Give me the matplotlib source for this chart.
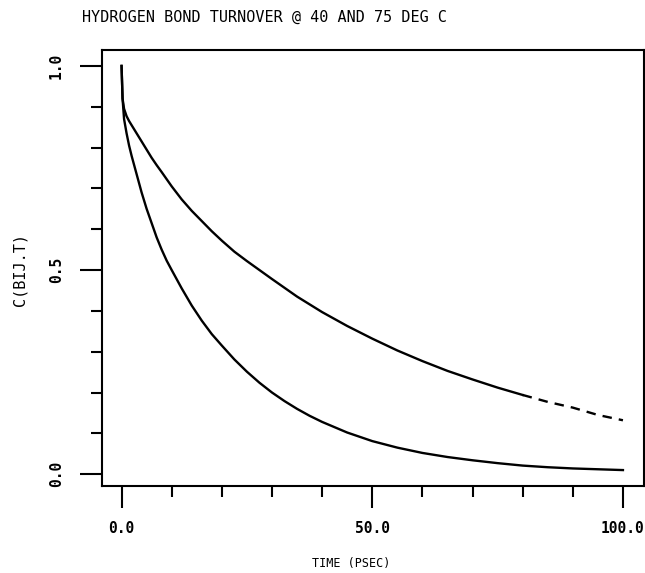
import matplotlib
matplotlib.use("Agg")
import matplotlib.pyplot as plt
from matplotlib.ticker import MultipleLocator

# Upper curve (40 deg C), solid part
t_upper = [0, 0.2, 0.5, 1, 1.5, 2, 3, 4, 5, 6, 7, 8, 10, 12, 14, 16, 18, 20, 22.5, 25,
           27.5, 30, 35, 40, 45, 50, 55, 60, 65, 70, 75, 80]
c_upper = [1.0, 0.92, 0.895, 0.877, 0.865, 0.855, 0.835, 0.815, 0.795, 0.775, 0.757, 0.74,
           0.705, 0.673, 0.645, 0.62, 0.595, 0.572, 0.545, 0.522, 0.5, 0.478, 0.435, 0.397,
           0.363, 0.332, 0.303, 0.277, 0.253, 0.232, 0.212, 0.194]
# Upper curve, dashed tail
t_upper_tail = [80, 85, 90, 95, 100]
c_upper_tail = [0.194, 0.177, 0.163, 0.145, 0.132]
# Lower curve (75 deg C)
t_lower = [0, 0.2, 0.5, 1, 1.5, 2, 3, 4, 5, 6, 7, 8, 9, 10, 12, 14, 16, 18, 20, 22.5, 25,
           27.5, 30, 32.5, 35, 37.5, 40, 45, 50, 55, 60, 65, 70, 75, 80, 85, 90, 95, 100]
c_lower = [1.0, 0.92, 0.87, 0.835, 0.805, 0.78, 0.735, 0.69, 0.65, 0.615, 0.58, 0.55, 0.523,
           0.5, 0.455, 0.413, 0.376, 0.343, 0.315, 0.281, 0.251, 0.224, 0.2, 0.179, 0.16,
           0.143, 0.128, 0.102, 0.081, 0.065, 0.052, 0.042, 0.034, 0.027, 0.021, 0.017,
           0.014, 0.012, 0.01]

x_ticks = [0, 50, 100]
x_ticklabels = ["0.0", "50.0", "100.0"]
y_ticks = [0, 0.5, 1.0]
y_ticklabels = ["0.0", "0.5", "1.0"]

W, H = 645, 573
fig = plt.figure(figsize=(W / 100, H / 100), dpi=100)
ax = fig.add_axes([101.5 / W, 1 - 486 / H, (644 - 101.5) / W, (486 - 50) / H])

lw = 1.7
ax.plot(t_upper, c_upper, color="black", lw=lw, solid_joinstyle="round")
ax.plot(t_upper_tail, c_upper_tail, color="black", lw=lw, linestyle=(0, (4, 3)))
ax.plot(t_lower, c_lower, color="black", lw=lw, solid_joinstyle="round")

ax.set_xlim(-4.0, 104.2)
ax.set_ylim(-0.029, 1.039)

for s in ax.spines.values():
    s.set_linewidth(1.5)
    s.set_color("black")

ax.set_xticks(x_ticks)
ax.set_xticklabels(x_ticklabels)
ax.set_yticks(y_ticks)
ax.set_yticklabels(y_ticklabels, rotation=90, va="center", ha="center")
ax.xaxis.set_minor_locator(MultipleLocator(10))
ax.yaxis.set_minor_locator(MultipleLocator(0.1))

mono = "DejaVu Sans Mono"
ax.tick_params(axis="x", which="major", direction="out", length=15.5, width=1.5, pad=10,
               labelsize=10.5)
ax.tick_params(axis="x", which="minor", direction="out", length=8, width=1.5)
ax.tick_params(axis="y", which="major", direction="out", length=15.5, width=1.5, pad=17,
               labelsize=10.5)
ax.tick_params(axis="y", which="minor", direction="out", length=8, width=1.5)
for lab in ax.get_xticklabels() + ax.get_yticklabels():
    lab.set_family(mono)
    lab.set_fontweight("bold")

fig.text(82 / W, 1 - 17 / H, "HYDROGEN BOND TURNOVER @ 40 AND 75 DEG C", family=mono,
         fontsize=10.9, ha="left", va="center")
fig.text(351 / W, 1 - 563 / H, "TIME (PSEC)", family=mono, fontsize=8.5, ha="center",
         va="center")
fig.text(20 / W, 1 - 270 / H, "C(BIJ.T)", family=mono, fontsize=11, ha="center",
         va="center", rotation=90)

fig.savefig("out.png", dpi=100)
